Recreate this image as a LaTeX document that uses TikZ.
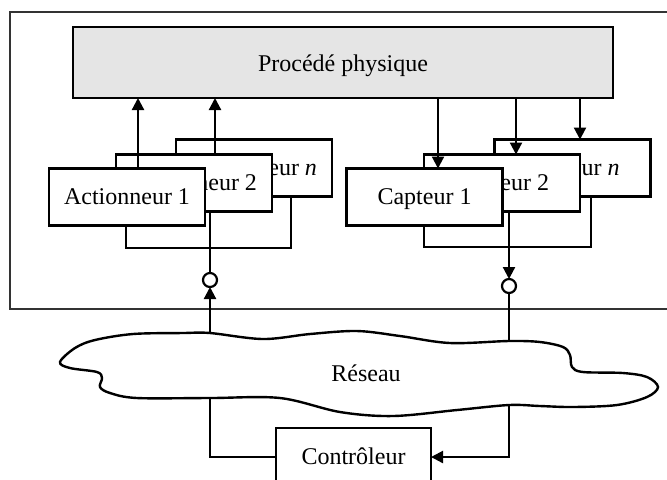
\documentclass[tikz,border=0pt]{standalone}
\usepackage{fontspec}
\setmainfont{Liberation Serif}
\usetikzlibrary{arrows.meta,calc}
\begin{document}
\begin{tikzpicture}[x=0.5pt,y=-0.5pt,
  txt/.style={font=\fontsize{12}{14}\selectfont},
  box/.style={txt,draw,line width=1.2pt,fill=white,minimum width=78pt,minimum height=28.5pt,
    inner sep=0pt,outer sep=0pt,text height=7pt,text depth=0pt},
  frame/.style={draw=black!80,line width=1.1pt},
  conn/.style={line width=1.1pt},
  arr/.style={conn,-{Triangle[length=6pt,width=6pt]}},
  junction/.style={draw,circle,line width=1.1pt,fill=white,minimum size=7pt,inner sep=0pt,outer sep=0pt}]
\useasboundingbox (0,0) rectangle (667,479);
% outer frame
\draw[frame] (10,12) rectangle (700,309);
% physical process
\node[box,fill=black!10,minimum width=270pt,minimum height=35.5pt,text height=8.5pt] (proc) at (343,62.5) {Procédé physique};
% actuators
\node[box] (actn) at (254,168) {Actionneur \textit{n}};
\node[box] (act2) at (194,183) {Actionneur 2};
\node[box] (act1) at (127,197) {Actionneur 1};
% sensors
\node[box] (captn) at (572.5,168) {Capteur \textit{n}};
\node[box] (capt2) at (502,183) {Capteur 2};
\node[box] (capt1) at (424.5,197) {Capteur 1};
% actuator arrows
\path ($(act1.north)+(11,0)$) coordinate (a1);
\draw[arr] (a1) -- (a1 |- proc.south);
\path ($(act2.north)+(21,0)$) coordinate (a2);
\draw[arr] (a2) -- (a2 |- proc.south);
% sensor arrows
\path ($(capt1.north)+(13.5,0)$) coordinate (s1);
\draw[arr] (s1 |- proc.south) -- (s1);
\path ($(capt2.north)+(14,0)$) coordinate (s2);
\draw[arr] (s2 |- proc.south) -- (s2);
\path ($(captn.north)+(7.5,0)$) coordinate (sn);
\draw[arr] (sn |- proc.south) -- (sn);
% brackets
\draw[conn] ($(act1.south)+(-1,0)$) -- ++(0,22.5) -| ($(actn.south)+(37,0)$);
\draw[conn] (capt2.south west |- capt1.south) -- ++(0,21.5) -| ($(captn.south)+(18.5,0)$);
% junctions
\node[junction] (c1) at (210,280) {};
\node[junction] (c2) at (509,286) {};
\draw[conn] (c1.north |- act2.south) -- (c1.north);
\draw[arr] (c2.north |- capt2.south) -- (c2.north);
% network cloud
\draw[line width=1.2pt,fill=white] plot[smooth cycle,tension=0.55] coordinates {
 (60,362) (75,348) (95,340) (133,334) (183,333) (210,333) (263,339) (310,334) (357,331)
 (400,336) (450,343) (509,341) (540,342) (563,347) (570,355) (572,367) (583,372) (623,373)
 (647,377) (658,387) (647,397) (617,405) (573,407) (540,406) (509,405) (457,410) (393,416)
 (340,412) (280,398) (210,398) (137,398) (110,393) (100,387) (102,378) (97,372) (70,368)};
\coordinate (nt1) at (210,333);
\coordinate (nt2) at (509,341);
\coordinate (nb1) at (210,398);
\coordinate (nb2) at (509,405);
\node[txt,anchor=base] (net) at (366,381) {Réseau};
\draw[arr] (nt1) -- (c1.south);
\draw[conn] (c2.south) -- (nt2);
% controller
\node[box,minimum width=77.5pt,minimum height=29pt] (ctrl) at (353.5,457) {Contrôleur};
\draw[conn] (nb1) |- (ctrl.west);
\draw[arr] (nb2) |- (ctrl.east);
\end{tikzpicture}
\end{document}
